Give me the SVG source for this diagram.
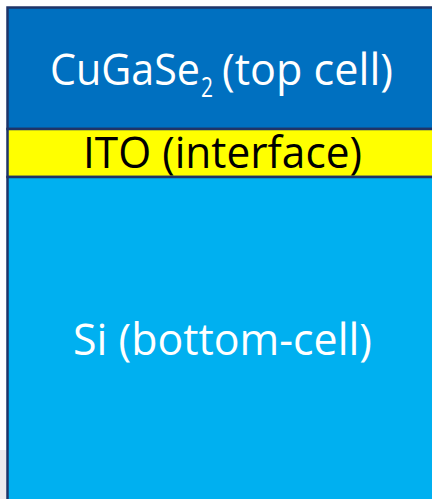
<svg xmlns="http://www.w3.org/2000/svg" width="432" height="499" viewBox="0 0 432 499">
  <style>
    .layer { stroke: #1F3468; stroke-width: 2.5; }
    .lbl { font-family: "Open Sans", "Liberation Sans", sans-serif; font-size: 43px; }
    .w { fill: #FFFFFF; }
    .k { fill: #000000; }
  </style>
  <rect x="0" y="0" width="432" height="499" fill="#FFFFFF"/>
  <rect x="0" y="450" width="7" height="49" fill="#ECEAEE"/>
  <g id="top-cell">
    <rect class="layer" x="7.5" y="7.5" width="430" height="121.5" fill="#0070C0"/>
    <text class="lbl w" y="85"><tspan x="50" textLength="150" lengthAdjust="spacingAndGlyphs">CuGaSe</tspan><tspan x="201" dy="12" style="font-size:27px" textLength="12" lengthAdjust="spacingAndGlyphs">2</tspan><tspan x="222" dy="-12" textLength="171" lengthAdjust="spacingAndGlyphs">(top cell)</tspan></text>
  </g>
  <g id="interface">
    <rect class="layer" x="7.5" y="129" width="430" height="48" fill="#FFFF00"/>
    <text class="lbl k" x="83" y="168" textLength="279" lengthAdjust="spacingAndGlyphs">ITO (interface)</text>
  </g>
  <g id="bottom-cell">
    <rect class="layer" x="7.5" y="177" width="430" height="330" fill="#00B0F0"/>
    <text class="lbl w" x="73" y="355" textLength="299" lengthAdjust="spacingAndGlyphs">Si (bottom-cell)</text>
  </g>
</svg>
